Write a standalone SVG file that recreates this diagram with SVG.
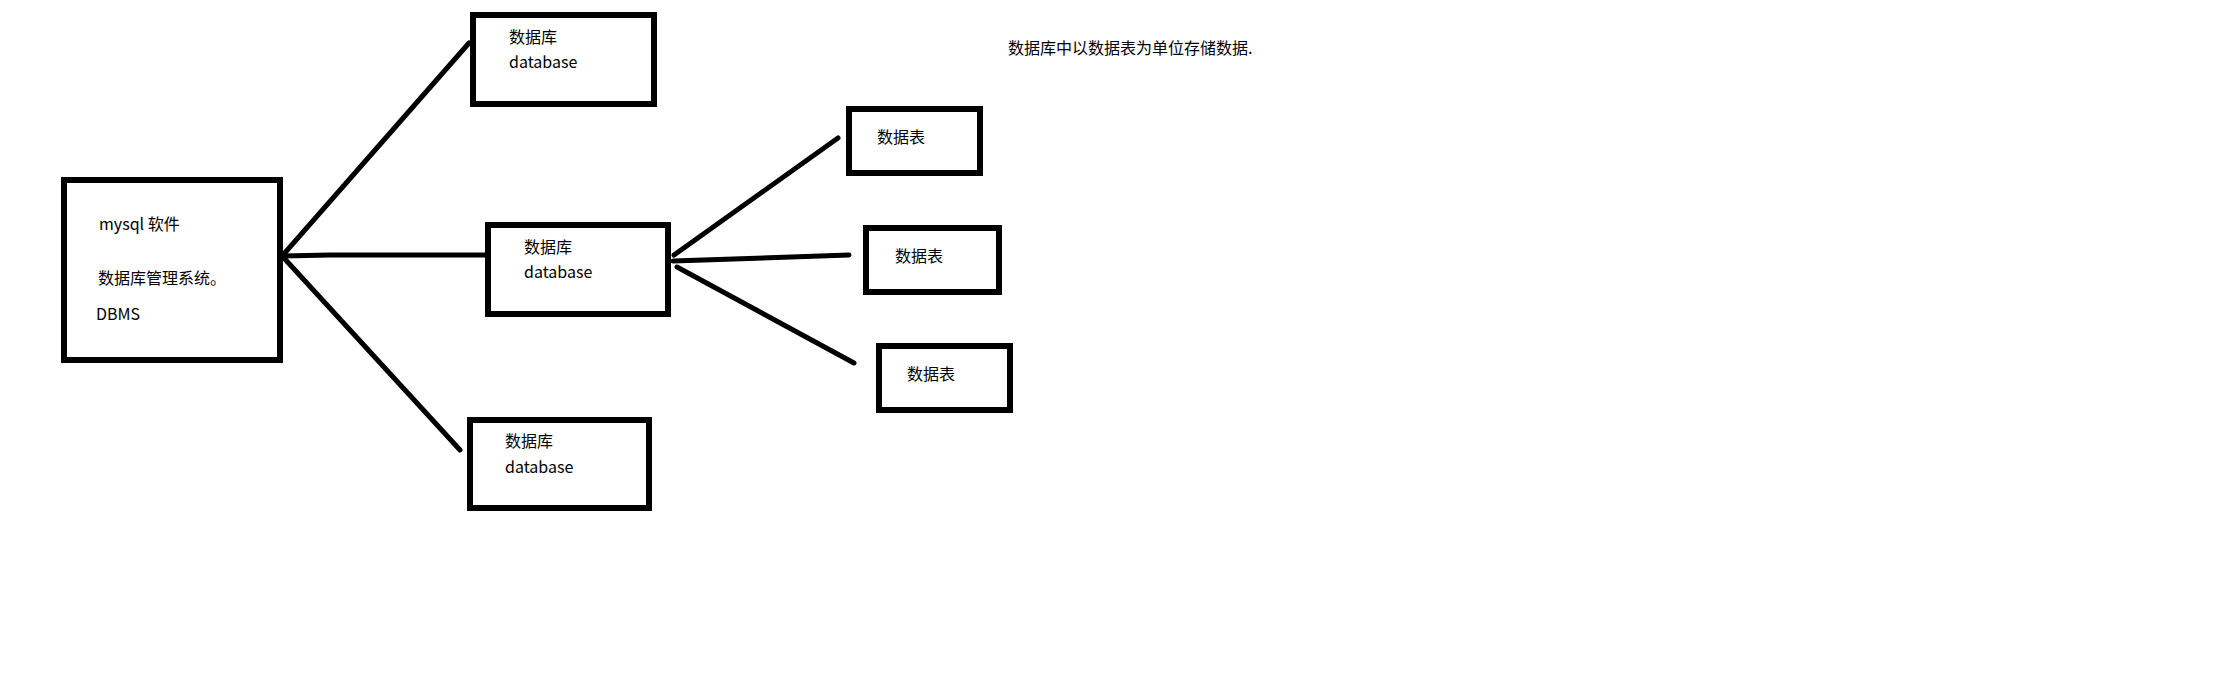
<svg xmlns="http://www.w3.org/2000/svg" width="2220" height="683" viewBox="0 0 2220 683">
<style>
.box{fill:#fff;stroke:#000;stroke-width:6}
.t{font-family:"Noto Sans CJK SC","Noto Sans",sans-serif;font-size:16px;fill:#000}
.ln{stroke:#000;stroke-width:5;stroke-linecap:round;fill:none}
</style>
<rect width="2220" height="683" fill="#fff"/>
<g id="connectors">
<line class="ln" x1="283" y1="255" x2="469" y2="43"/>
<polyline class="ln" points="283,256 330,255 485,255"/>
<line class="ln" x1="283" y1="257" x2="460" y2="450"/>
<line class="ln" x1="674" y1="255" x2="838" y2="138"/>
<line class="ln" x1="673" y1="261" x2="849" y2="255"/>
<line class="ln" x1="677" y1="267" x2="854" y2="363"/>
</g>
<g id="mysql">
<rect class="box" x="64" y="180" width="216" height="180"/>
<text class="t" x="99" y="230">mysql 软件</text>
<text class="t" x="98" y="284">数据库管理系统。</text>
<text class="t" x="96" y="320">DBMS</text>
</g>
<g id="db1">
<rect class="box" x="473" y="15" width="181" height="89"/>
<text class="t" x="509" y="43">数据库</text>
<text class="t" x="509" y="68">database</text>
</g>
<g id="db2">
<rect class="box" x="488" y="225" width="180" height="89"/>
<text class="t" x="524" y="253">数据库</text>
<text class="t" x="524" y="278">database</text>
</g>
<g id="db3">
<rect class="box" x="470" y="420" width="179" height="88"/>
<text class="t" x="505" y="447">数据库</text>
<text class="t" x="505" y="473">database</text>
</g>
<g id="table1">
<rect class="box" x="849" y="109" width="131" height="64"/>
<text class="t" x="877" y="143">数据表</text>
</g>
<g id="table2">
<rect class="box" x="866" y="228" width="133" height="64"/>
<text class="t" x="895" y="262">数据表</text>
</g>
<g id="table3">
<rect class="box" x="879" y="346" width="131" height="64"/>
<text class="t" x="907" y="380">数据表</text>
</g>
<g id="note">
<text class="t" x="1008" y="54">数据库中以数据表为单位存储数据.</text>
</g>
</svg>
